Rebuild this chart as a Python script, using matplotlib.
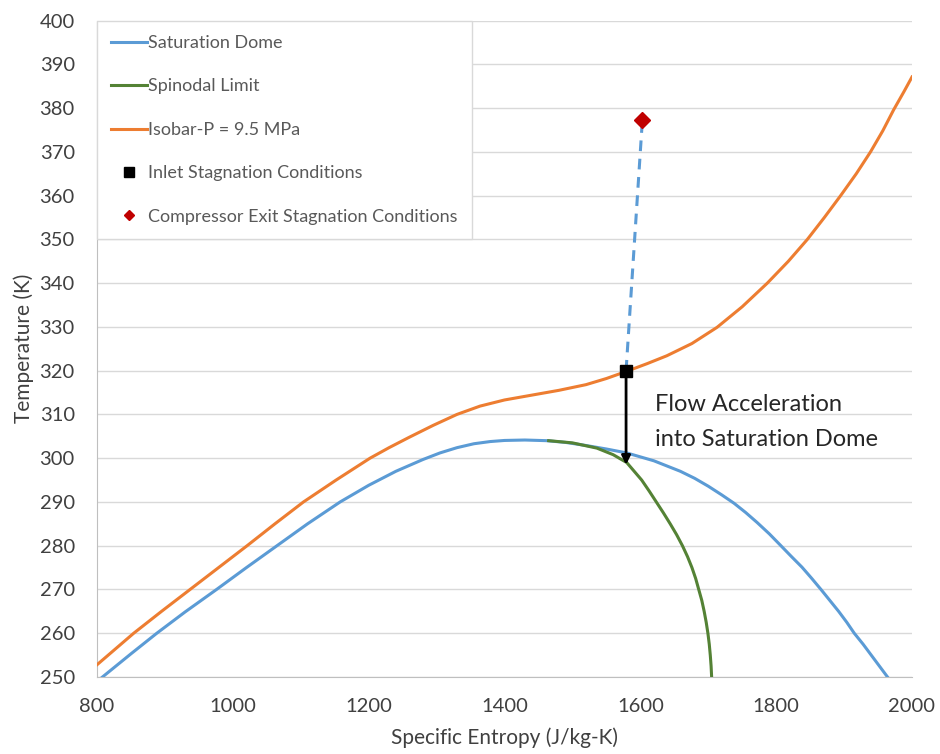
import matplotlib.pyplot as plt
from matplotlib.lines import Line2D

plt.rcParams['font.family'] = ['Lato', 'DejaVu Sans']

# saturation dome (entropy J/kg-K, temperature K)
dome_s = [808, 850, 888, 930, 976, 1020, 1065, 1110, 1158, 1200, 1240, 1280, 1305, 1330,
          1355, 1379, 1400, 1430, 1462, 1490, 1520, 1550, 1580, 1620, 1659, 1680, 1700,
          1720, 1738, 1755, 1772, 1790, 1807, 1822, 1838, 1852, 1866, 1879, 1892, 1904,
          1915, 1928, 1940, 1952, 1964]
dome_T = [250, 255.3, 260, 264.9, 270, 275, 280, 285, 290, 293.8, 297.0, 299.7, 301.2, 302.4,
          303.3, 303.8, 304.05, 304.15, 304.0, 303.6, 302.9, 302.1, 301.2, 299.4, 297.0, 295.4,
          293.6, 291.6, 289.7, 287.6, 285.3, 282.7, 280, 277.6, 275.1, 272.6, 270, 267.5, 265,
          262.5, 260, 257.5, 255, 252.5, 250]

# spinodal limit
spin_s = [1465, 1500, 1536, 1560, 1580, 1602, 1613, 1623.5, 1634, 1644, 1653.5, 1662, 1669.5,
          1676, 1681.5, 1686, 1690.5, 1694, 1697, 1699.5, 1701.5, 1703, 1704.2, 1705]
spin_T = [304.0, 303.5, 302.3, 300.8, 299.0, 295.0, 292.5, 290.0, 287.5, 285.0, 282.5, 280.0,
          277.5, 275.0, 272.5, 270.0, 267.5, 265.0, 262.5, 260.0, 257.5, 255.0, 252.5, 250.0]

# isobar P = 9.5 MPa
iso_s = [800, 830, 854, 895, 937, 979, 1021, 1062, 1104, 1152, 1202, 1230, 1260, 1295, 1330,
         1364, 1400, 1440, 1480, 1520, 1550, 1579, 1610, 1639, 1676, 1713, 1750, 1787, 1818,
         1846, 1871, 1895, 1918, 1939, 1957, 1973, 1988, 2000]
iso_T = [252.8, 256.8, 260, 265, 270, 275, 280, 285, 290, 295, 300, 302.4, 304.8, 307.5, 310,
         311.9, 313.3, 314.4, 315.5, 316.8, 318.2, 319.8, 321.6, 323.4, 326.2, 329.9, 334.6,
         340, 345, 350, 355, 360, 365, 370, 374.8, 379.6, 383.7, 387.1]

inlet = (1579, 320)
exit_pt = (1603, 377.2)
arrow_end_T = 298.5

blue = '#5B9BD5'
green = '#548235'
orange = '#ED7D31'
red = '#C00000'

fig = plt.figure(figsize=(9.4, 7.54), dpi=100)
ax = fig.add_axes([0.1032, 0.1021, 0.8670, 0.8707])

ax.plot(dome_s, dome_T, color=blue, lw=2.2, label='Saturation Dome', zorder=3)
ax.plot(spin_s, spin_T, color=green, lw=2.2, label='Spinodal Limit', zorder=4)
ax.plot(iso_s, iso_T, color=orange, lw=2.2, label='Isobar-P = 9.5 MPa', zorder=3)

ax.plot([inlet[0], exit_pt[0]], [inlet[1], exit_pt[1]], color=blue, lw=2.2,
        dashes=(3.5, 2.5), zorder=3)
ax.annotate('', xy=(inlet[0], arrow_end_T), xytext=inlet,
            arrowprops=dict(arrowstyle='-|>', color='black', lw=2, mutation_scale=13,
                            shrinkA=0, shrinkB=0), zorder=5)
ax.plot(*inlet, marker='s', color='black', ms=9, ls='none', zorder=6)
ax.plot(*exit_pt, marker='D', color=red, ms=8.5, ls='none', zorder=6)

ax.text(1621, 312.2, 'Flow Acceleration', fontsize=17, va='center', color='#262626')
ax.text(1621, 304.3, 'into Saturation Dome', fontsize=17, va='center', color='#262626')

ax.set_xlim(800, 2000)
ax.set_ylim(250, 400)
ax.set_xticks(range(800, 2001, 200))
ax.set_yticks(range(250, 401, 10))
ax.grid(axis='y', color='#d9d9d9', lw=1)
ax.set_axisbelow(True)
for side in ['top', 'right']:
    ax.spines[side].set_visible(False)
for side in ['left', 'bottom']:
    ax.spines[side].set_color('#bfbfbf')
ax.tick_params(axis='both', length=0, labelsize=14.5, colors='#404040')
ax.tick_params(axis='x', pad=15)
ax.tick_params(axis='y', pad=16)
ax.set_xlabel('Specific Entropy (J/kg-K)', fontsize=15, color='#404040', labelpad=9)
ax.set_ylabel('Temperature (K)', fontsize=15, color='#404040', labelpad=4)

handles = [
    Line2D([], [], color=blue, lw=2.2),
    Line2D([], [], color=green, lw=2.2),
    Line2D([], [], color=orange, lw=2.2),
    Line2D([], [], marker='s', color='black', ms=7, ls='none'),
    Line2D([], [], marker='D', color=red, ms=5, ls='none'),
]
labels = ['Saturation Dome', 'Spinodal Limit', 'Isobar-P = 9.5 MPa',
          'Inlet Stagnation Conditions', 'Compressor Exit Stagnation Conditions']
leg = ax.legend(handles, labels, loc='upper left', bbox_to_anchor=(0, 1), borderaxespad=0,
                fontsize=13, handlelength=1.95, handletextpad=0.05, labelspacing=1.52,
                fancybox=False, framealpha=1, edgecolor='#d9d9d9', borderpad=0.8)
for t in leg.get_texts():
    t.set_color('#595959')
leg.get_frame().set_linewidth(1)

fig.savefig('out.png', dpi=100)
